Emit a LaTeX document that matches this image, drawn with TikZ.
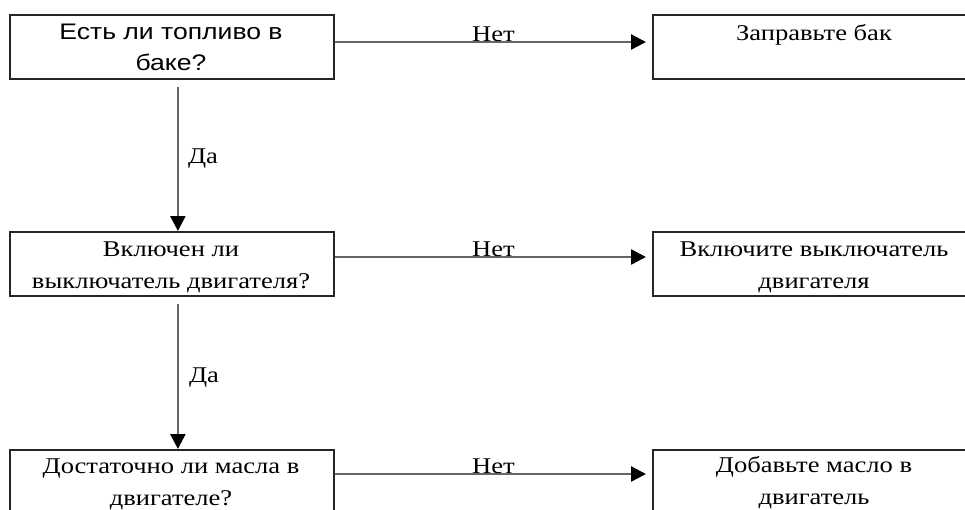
\documentclass[tikz,border=0pt]{standalone}
\usepackage{fontspec}
\setmainfont{Liberation Serif}[FakeStretch=1.18]
\newfontfamily\arialf{Liberation Sans}[FakeStretch=1.18]
\usetikzlibrary{arrows.meta}
\begin{document}
\begin{tikzpicture}[x=1pt,y=-1pt,
  box/.style={draw=black!85, line width=1.8pt, minimum width=324pt, minimum height=64pt, inner sep=0pt, anchor=north west},
  txt/.style={inner sep=0pt, align=center, anchor=base, text=black, font=\fontsize{22.5pt}{31.5pt}\selectfont},
  arr/.style={draw=black!60, line width=2.4pt, -{Triangle[length=15pt,width=15pt,color=black]}},
  lbl/.style={inner sep=0pt, text=black, font=\fontsize{22.5pt}{31.5pt}\selectfont}]
\clip (0,0) rectangle (965,509);
\node[box] (A1) at (9,14) {};
\node[box] (B1) at (652,14) {};
\node[box] (A2) at (9,231) {};
\node[box] (B2) at (652,231) {};
\node[box] (A3) at (9,449) {};
\node[box] (B3) at (652,449) {};
\node[txt, font={\arialf\fontsize{22.5pt}{31pt}\selectfont}] (A1t) at (171,70) {Есть ли топливо в\\баке?};
\node[txt] (B1t) at (814,40) {Заправьте бак};
\node[txt] (A2t) at (171,288) {Включен ли\\выключатель двигателя?};
\node[txt] (B2t) at (814,288) {Включите выключатель\\двигателя};
\node[txt] (A3t) at (171,505) {Достаточно ли масла в\\двигателе?};
\node[txt] (B3t) at (814,504) {Добавьте масло в\\двигатель};
\draw[arr, shorten >=6pt] ([yshift=-28pt]A1.north east) -- ([yshift=-28pt]B1.north west)
  node[lbl, midway, anchor=base, yshift=1pt] (n1) {Нет};
\draw[arr, shorten >=6pt] ([yshift=-26pt]A2.north east) -- ([yshift=-26pt]B2.north west)
  node[lbl, midway, anchor=base, yshift=1pt] (n2) {Нет};
\draw[arr, shorten >=6pt] ([yshift=-25pt]A3.north east) -- ([yshift=-25pt]B3.north west)
  node[lbl, midway, anchor=base, yshift=1pt] (n3) {Нет};
\draw[arr, shorten <=7pt] ([xshift=6pt]A1.south) -- ([xshift=6pt]A2.north)
  node[lbl, midway, anchor=base west, xshift=9pt, yshift=-8.5pt] (d1) {Да};
\draw[arr, shorten <=7pt] ([xshift=6pt]A2.south) -- ([xshift=6pt]A3.north)
  node[lbl, midway, anchor=base west, xshift=10pt, yshift=-10pt] (d2) {Да};
\end{tikzpicture}
\end{document}
